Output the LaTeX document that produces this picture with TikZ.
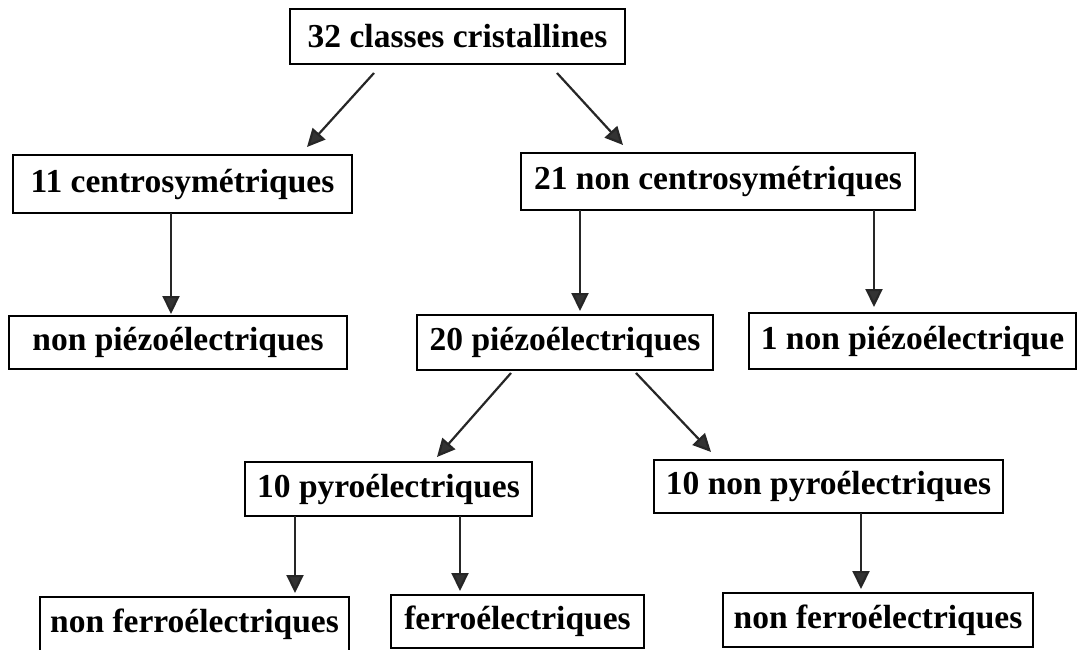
\documentclass[tikz,border=0pt]{standalone}
\usepackage{fontspec}
\setmainfont{Liberation Serif}
\usetikzlibrary{arrows.meta}
\begin{document}
\begin{tikzpicture}[x=1pt,y=-1pt,
  box/.style={draw=black,line width=2.2pt,inner sep=0pt,outer sep=0pt,
    font=\fontsize{33.5}{40}\selectfont\bfseries,text=black},
  arr/.style={line width=2.2pt,draw=black!85,
    -{Triangle[length=18pt,width=17pt,fill=black!80]}}]
\useasboundingbox[fill=white] (0,0) rectangle (1079,650);
\node[box,minimum width=335pt,minimum height=55pt] (A) at (457.5,36.5) {32 classes cristallines};
\node[box,minimum width=339pt,minimum height=58pt] (B) at (182.5,184) {11 centrosymétriques};
\node[box,minimum width=394pt,minimum height=57pt] (C) at (718,181.5) {21 non centrosymétriques};
\node[box,minimum width=338pt,minimum height=53pt] (D) at (178,342.5) {non piézoélectriques};
\node[box,minimum width=296pt,minimum height=55pt] (E) at (565,342.5) {20 piézoélectriques};
\node[box,minimum width=327pt,minimum height=56pt] (F) at (912.5,341) {1 non piézoélectrique};
\node[box,minimum width=287pt,minimum height=54pt] (G) at (388.5,489) {10 pyroélectriques};
\node[box,minimum width=349pt,minimum height=53pt] (H) at (828.5,486.5) {10 non pyroélectriques};
\node[box,minimum width=309pt,minimum height=55pt] (I) at (194.5,624.5) {non ferroélectriques};
\node[box,minimum width=253pt,minimum height=53pt] (K) at (517.5,621.5) {ferroélectriques};
\node[box,minimum width=310pt,minimum height=54pt] (J) at (878,620) {non ferroélectriques};
\draw[arr] ([xshift=-83.5pt,yshift=-9pt]A.south) -- ([xshift=124.5pt,yshift=8pt]B.north);
\draw[arr] ([xshift=99.5pt,yshift=-9pt]A.south) -- ([xshift=-95pt,yshift=8pt]C.north);
\draw[arr] ([xshift=-11.5pt]B.south) -- ([xshift=-7pt,yshift=2pt]D.north);
\draw[arr] ([xshift=-138pt]C.south) -- ([xshift=15pt,yshift=4pt]E.north);
\draw[arr] ([xshift=156pt]C.south) -- ([xshift=-38.5pt,yshift=6pt]F.north);
\draw[arr] ([xshift=-54pt,yshift=-3pt]E.south) -- ([xshift=48.5pt,yshift=5pt]G.north);
\draw[arr] ([xshift=71pt,yshift=-3pt]E.south) -- ([xshift=-117.5pt,yshift=8pt]H.north);
\draw[arr] ([xshift=-93.5pt]G.south) -- ([xshift=100.5pt,yshift=4pt]I.north);
\draw[arr] ([xshift=71.5pt]G.south) -- ([xshift=-57.5pt,yshift=4pt]K.north);
\draw[arr] ([xshift=32.5pt]H.south) -- ([xshift=-17pt,yshift=4pt]J.north);
\end{tikzpicture}
\end{document}
